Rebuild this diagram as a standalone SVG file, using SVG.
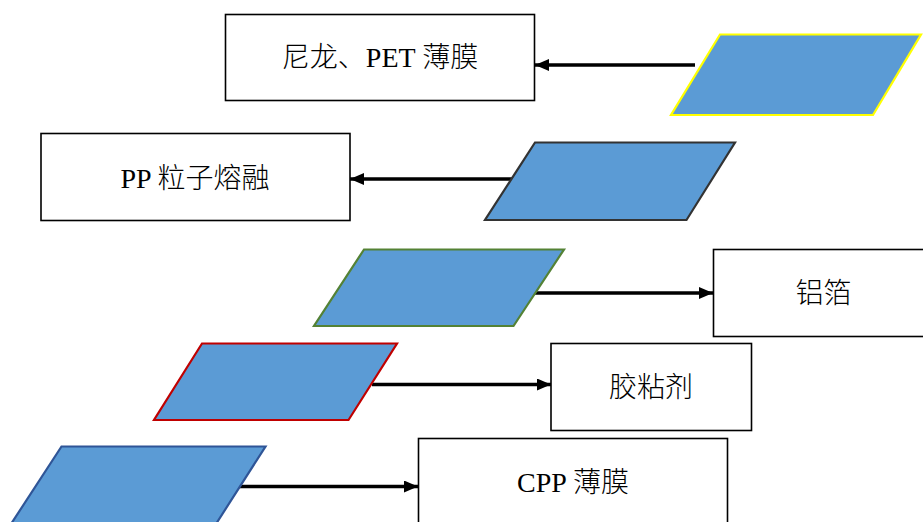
<svg xmlns="http://www.w3.org/2000/svg" width="923" height="522" viewBox="0 0 923 522">
<defs>
<marker id="arr" markerWidth="14" markerHeight="12" refX="14" refY="6" orient="auto" markerUnits="userSpaceOnUse">
<path d="M0,0 L14,6 L0,12 Z" fill="#000"/>
</marker>
<style>
.box{fill:#fff;stroke:#000;stroke-width:1.6}
.para{fill:#5B9BD5;stroke-width:2.2;stroke-linejoin:miter}
.lbl{font-family:"Liberation Serif","Noto Sans CJK SC",serif;font-size:28px;font-weight:300;fill:#000;text-anchor:middle}
.conn{stroke:#000;stroke-width:3.4;fill:none}
</style>
</defs>
<rect width="923" height="522" fill="#fff"/>
<g id="connectors">
<line class="conn" x1="695" y1="65" x2="535" y2="65" marker-end="url(#arr)"/>
<line class="conn" x1="512" y1="179" x2="350" y2="179" marker-end="url(#arr)"/>
<line class="conn" x1="535" y1="293" x2="713" y2="293" marker-end="url(#arr)"/>
<line class="conn" x1="372" y1="384.5" x2="551" y2="384.5" marker-end="url(#arr)"/>
<line class="conn" x1="239" y1="486.5" x2="418" y2="486.5" marker-end="url(#arr)"/>
</g>
<g id="p1"><polygon class="para" stroke="#FFFF00" stroke-width="3" points="720,34.5 921,34.5 873,115 671,115"/></g>
<g id="p2"><polygon class="para" stroke="#333" points="535,142.5 735,142.5 686.5,220 485,220"/></g>
<g id="p3"><polygon class="para" stroke="#548235" points="364,249.5 564,249.5 513.5,326 314,326"/></g>
<g id="p4"><polygon class="para" stroke="#C00000" points="202,343.5 397,343.5 348.5,420 154,420"/></g>
<g id="p5"><polygon class="para" stroke="#2F5597" points="61.5,446.5 265.5,446.5 216,524 11,524"/></g>
<g id="n1"><rect class="box" x="225.5" y="14.5" width="309" height="86"/><text class="lbl" x="380" y="67">尼龙、PET 薄膜</text></g>
<g id="n2"><rect class="box" x="41" y="133.5" width="309" height="87"/><text class="lbl" x="195" y="188">PP 粒子熔融</text></g>
<g id="n3"><rect class="box" x="713.5" y="249.5" width="220" height="87"/><text class="lbl" x="823.5" y="303">铝箔</text></g>
<g id="n4"><rect class="box" x="551" y="343.5" width="200.5" height="87"/><text class="lbl" x="651" y="397">胶粘剂</text></g>
<g id="n5"><rect class="box" x="418.5" y="438.5" width="309" height="87"/><text class="lbl" x="573" y="492">CPP 薄膜</text></g>
</svg>
